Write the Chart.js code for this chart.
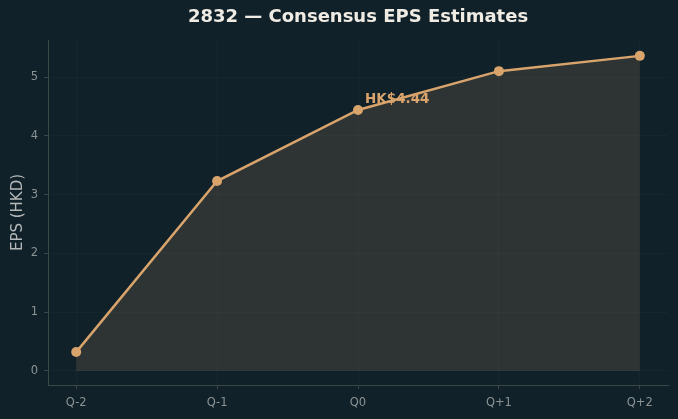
<!DOCTYPE html>
<html>
<head>
<meta charset="utf-8">
<script src="https://cdn.jsdelivr.net/npm/chart.js@4.4.0/dist/chart.umd.min.js"></script>
<style>
  html, body { margin: 0; padding: 0; background: #10212a; }
  #wrap { width: 678px; height: 419px; }
</style>
</head>
<body>
<div id="wrap"><canvas id="epsChart" width="678" height="419"></canvas></div>
<script>
// chart data
const quarters = ['Q-2', 'Q-1', 'Q0', 'Q+1', 'Q+2'];
const epsValues = [0.32, 3.23, 4.44, 5.10, 5.36];
const yTicks = [0, 1, 2, 3, 4, 5];
const highlightIndex = 2;
const highlightLabel = 'HK$4.44';

const lineColor = '#d9a46c';
const bgColor = '#10212a';
const spineColor = '#3b4646';
const gridColor = 'rgba(255, 255, 255, 0.025)';

// paint the figure background
const bgPlugin = {
    id: 'bg',
    beforeDraw(chart) {
        const ctx = chart.ctx;
        ctx.save();
        ctx.fillStyle = bgColor;
        ctx.fillRect(0, 0, chart.width, chart.height);
        ctx.restore();
    }
};

// label next to the current quarter point
const annotatePlugin = {
    id: 'annotate',
    afterDatasetsDraw(chart) {
        const ctx = chart.ctx;
        const x = chart.scales.x.getPixelForValue(highlightIndex);
        const y = chart.scales.y.getPixelForValue(epsValues[highlightIndex]);
        ctx.save();
        ctx.font = 'bold 13.5px "DejaVu Sans"';
        ctx.fillStyle = lineColor;
        ctx.textAlign = 'left';
        ctx.textBaseline = 'middle';
        ctx.fillText(highlightLabel, x + 7, y - 10);
        ctx.restore();
    }
};

const ctx = document.getElementById('epsChart').getContext('2d');
new Chart(ctx, {
    type: 'line',
    data: {
        datasets: [{
            data: epsValues.map((v, i) => ({ x: i, y: v })),
            borderColor: lineColor,
            backgroundColor: 'rgba(217, 164, 108, 0.15)',
            borderWidth: 2.5,
            fill: 'origin',
            tension: 0,
            pointRadius: 5,
            pointBackgroundColor: lineColor,
            pointBorderColor: lineColor,
            pointBorderWidth: 0
        }]
    },
    options: {
        responsive: false,
        animation: false,
        layout: { padding: { left: 0, right: 10, top: 0, bottom: 0 } },
        plugins: {
            legend: { display: false },
            tooltip: { enabled: false },
            title: {
                display: true,
                fullSize: false,
                text: '2832 — Consensus EPS Estimates',
                color: '#f0ece4',
                font: { family: 'DejaVu Sans', size: 18, weight: 'bold' },
                padding: { top: 7, bottom: 11.4 }
            }
        },
        scales: {
            x: {
                type: 'linear',
                min: -0.2,
                max: 4.2,
                afterFit(scale) { scale.height = 34; },
                afterBuildTicks(scale) {
                    scale.ticks = quarters.map((q, i) => ({ value: i }));
                },
                grid: { color: gridColor, tickColor: spineColor, tickLength: 4 },
                border: { color: spineColor, width: 1 },
                ticks: {
                    color: '#8c9393',
                    font: { family: 'DejaVu Sans', size: 11.5 },
                    padding: 7,
                    maxRotation: 0,
                    callback: (v) => quarters[v]
                }
            },
            y: {
                min: -0.24,
                max: 5.63,
                afterFit(scale) { scale.width = 48; },
                afterBuildTicks(scale) {
                    scale.ticks = yTicks.map(v => ({ value: v }));
                },
                grid: { color: gridColor, tickColor: spineColor, tickLength: 4 },
                border: { color: spineColor, width: 1 },
                ticks: {
                    color: '#8c9393',
                    font: { family: 'DejaVu Sans', size: 11.5 },
                    padding: 6,
                    callback: (v) => String(v)
                },
                title: {
                    display: true,
                    text: 'EPS (HKD)',
                    color: '#b4b8b8',
                    font: { family: 'DejaVu Sans', size: 15 },
                    padding: { top: 9, bottom: 0 }
                }
            }
        }
    },
    plugins: [bgPlugin, annotatePlugin]
});
</script>
</body>
</html>
